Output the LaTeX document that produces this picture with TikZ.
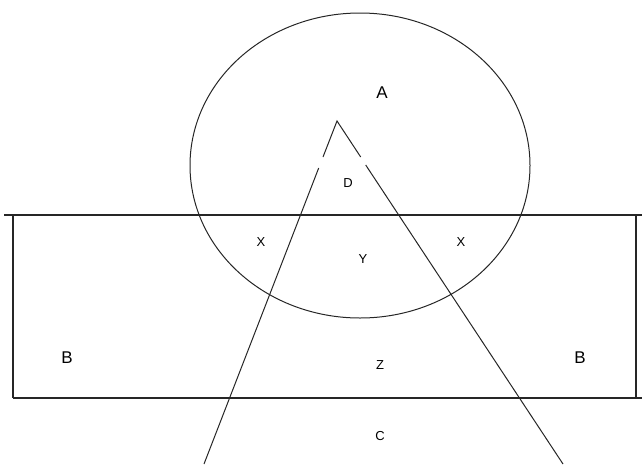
\documentclass[tikz,border=0pt]{standalone}
\usepackage{fontspec}
\setmainfont{Liberation Sans}
\usepackage{tikz}

\begin{document}
\begin{tikzpicture}[x=1pt, y=-1pt,
  big/.style={font=\fontsize{17}{17}\selectfont},
  small/.style={font=\fontsize{13}{13}\selectfont},
  edge/.style={line width=1.3pt, black!85},
  thin edge/.style={line width=1pt, black!85}]
\useasboundingbox (0,0) rectangle (642,464);

% circle A
\draw[thin edge] (360,165.5) ellipse [x radius=170, y radius=152.5];

% rectangle B
\coordinate (tl) at (4,215);
\coordinate (tr) at (642,215);
\coordinate (bl) at (13,398);
\coordinate (br) at (642,398);
\draw[edge] (tl) -- (tr);
\draw[edge] (bl) -- (br);
\draw[edge] (13,215) -- (bl);
\draw[edge] (636,215) -- (636,398);

% triangle C
\coordinate (apex) at (337,121);
\coordinate (lgap1) at (323,157);
\coordinate (lgap2) at (318.7,168);
\coordinate (lfoot) at (204,464);
\coordinate (rgap1) at (360.7,157);
\coordinate (rgap2) at (365.7,165);
\coordinate (rfoot) at (563,464);
\draw[thin edge] (lgap1) -- (apex) -- (rgap1);
\draw[thin edge] (lgap2) -- (lfoot);
\draw[thin edge] (rgap2) -- (rfoot);

% labels
\node (a) [big] at (382,93) {A};
\node (d) [small] at (348,183) {D};
\node (x1) [small] at (261,242) {X};
\node (y) [small] at (363,259) {Y};
\node (x2) [small] at (461,242) {X};
\node (b1) [big] at (67,358) {B};
\node (z) [small] at (380,365) {Z};
\node (b2) [big] at (580,358) {B};
\node (c) [small] at (380,436) {C};
\end{tikzpicture}
\end{document}
